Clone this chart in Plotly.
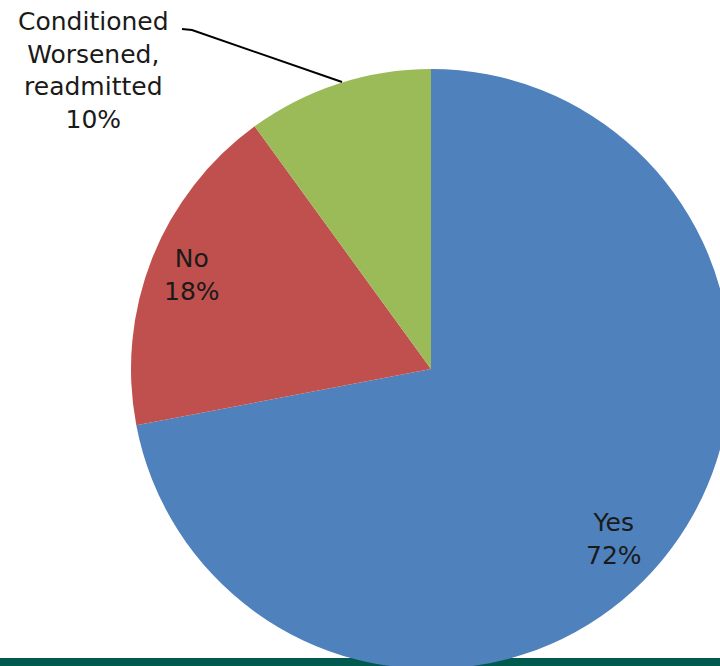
import plotly.graph_objects as go

# ---- data ----
categories = ["Yes", "No", "Conditioned Worsened, readmitted"]
values = [72, 18, 10]
label_texts = ["Yes<br>72%", "No<br>18%", "Conditioned<br>Worsened,<br>readmitted<br>10%"]
colors = ["#4F81BD", "#C0504D", "#9BBB59"]

# ---- canvas (slightly larger than viewport so the pie is clipped like the reference) ----
W, H = 740, 680

def px(x):
    return x / W

def py(y):
    return 1 - y / H

cx, cy, r = 431, 369, 300

fig = go.Figure()
fig.add_trace(go.Pie(
    labels=categories,
    values=values,
    sort=False,
    direction="clockwise",
    rotation=0,
    marker=dict(colors=colors, line=dict(width=0)),
    textinfo="none",
    hoverinfo="label+percent",
    showlegend=False,
    domain=dict(x=[px(cx - r), px(cx + r)], y=[py(cy + r), py(cy - r)]),
))

font = dict(family="DejaVu Sans", size=25, color="#1a1a1a")
label_pos = [(614, 539), (192, 275), (93, 71)]
for txt, (x, y) in zip(label_texts, label_pos):
    fig.add_annotation(x=px(x), y=py(y), xref="paper", yref="paper",
                       text=txt, showarrow=False, font=font,
                       xanchor="center", yanchor="middle", align="center")

# leader line for the small slice label
fig.add_shape(type="path", xref="paper", yref="paper",
              path=f"M {px(182)},{py(29)} L {px(192)},{py(30)} L {px(342)},{py(82)}",
              line=dict(color="#000000", width=2))

# dark green footer bar
fig.add_shape(type="rect", xref="paper", yref="paper", layer="below",
              x0=0, x1=1, y0=0, y1=py(658),
              fillcolor="#005A4E", line=dict(width=0))

fig.update_layout(width=W, height=H, margin=dict(l=0, r=0, t=0, b=0),
                  paper_bgcolor="white", plot_bgcolor="white")

fig.write_html("out.html", config={"displayModeBar": False}, post_script=(
    "document.body.style.margin='0';"
    "document.documentElement.style.overflow='hidden';"
    "document.body.style.overflow='hidden';"
))
